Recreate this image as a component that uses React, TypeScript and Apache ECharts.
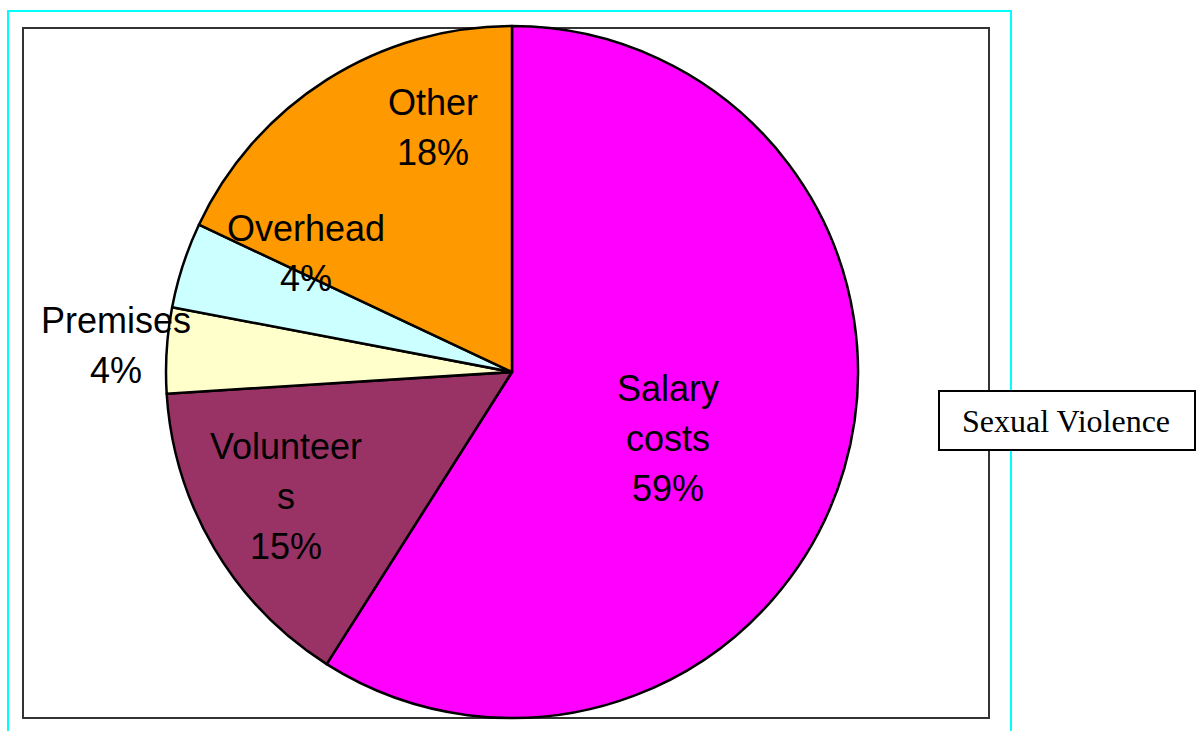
import React, { useEffect, useRef } from "react";
import * as echarts from "echarts";

const categories = ["Salary costs", "Volunteers", "Premises", "Overhead", "Other"];
const labelLines = ["Salary\ncosts", "Volunteer\ns", "Premises", "Overhead", "Other"];
const values = [59, 15, 4, 4, 18];
const colors = ["#FF00FF", "#993366", "#FFFFCC", "#CCFFFF", "#FF9900"];
const labelCenters: [number, number][] = [
  [668, 438],
  [286, 496],
  [116, 345],
  [306, 253],
  [433, 127],
];
const seriesName = "Sexual Violence";

export default function App() {
  const ref = useRef<HTMLDivElement>(null);
  useEffect(() => {
    if (!ref.current) return;
    const chart = echarts.init(ref.current, undefined, { renderer: "svg" });
    chart.setOption({
      animation: false,
      backgroundColor: "#ffffff",
      graphic: [
        {
          type: "polyline",
          z: 0,
          shape: { points: [[8, 740], [8, 11], [1011, 11], [1011, 740]] },
          style: { stroke: "#00FFFF", lineWidth: 2, fill: "none" },
        },
        {
          type: "rect",
          z: 0,
          shape: { x: 23, y: 28, width: 966, height: 690 },
          style: { stroke: "#333333", lineWidth: 2, fill: "#ffffff" },
        },
        {
          type: "rect",
          z: 10,
          shape: { x: 939, y: 391, width: 256, height: 59 },
          style: { stroke: "#000000", lineWidth: 2, fill: "#ffffff" },
        },
        {
          type: "text",
          z: 11,
          x: 1066,
          y: 421,
          style: {
            text: seriesName,
            fill: "#000000",
            font: '32px "Liberation Serif", "Times New Roman", serif',
            align: "center",
            verticalAlign: "middle",
          },
        },
      ],
      series: [
        {
          type: "pie",
          name: seriesName,
          center: [512, 372],
          radius: 346,
          startAngle: 90,
          clockwise: true,
          z: 5,
          itemStyle: { borderColor: "#000000", borderWidth: 2.5 },
          label: {
            show: true,
            position: "inside",
            color: "#000000",
            fontFamily: '"Liberation Sans", Arial, sans-serif',
            fontSize: 36,
            lineHeight: 50,
            align: "center",
            formatter: (p: any) => labelLines[p.dataIndex] + "\n" + p.value + "%",
          },
          labelLine: { show: false },
          labelLayout: (p: any) => ({
            x: labelCenters[p.dataIndex][0],
            y: labelCenters[p.dataIndex][1],
            align: "center",
            verticalAlign: "middle",
          }),
          emphasis: { disabled: true },
          data: categories.map((name, i) => ({
            name,
            value: values[i],
            itemStyle: { color: colors[i] },
          })),
        },
      ],
    });
    return () => chart.dispose();
  }, []);
  return (
    <div
      ref={ref}
      style={{ position: "fixed", left: 0, top: 0, width: 1202, height: 731 }}
    />
  );
}
